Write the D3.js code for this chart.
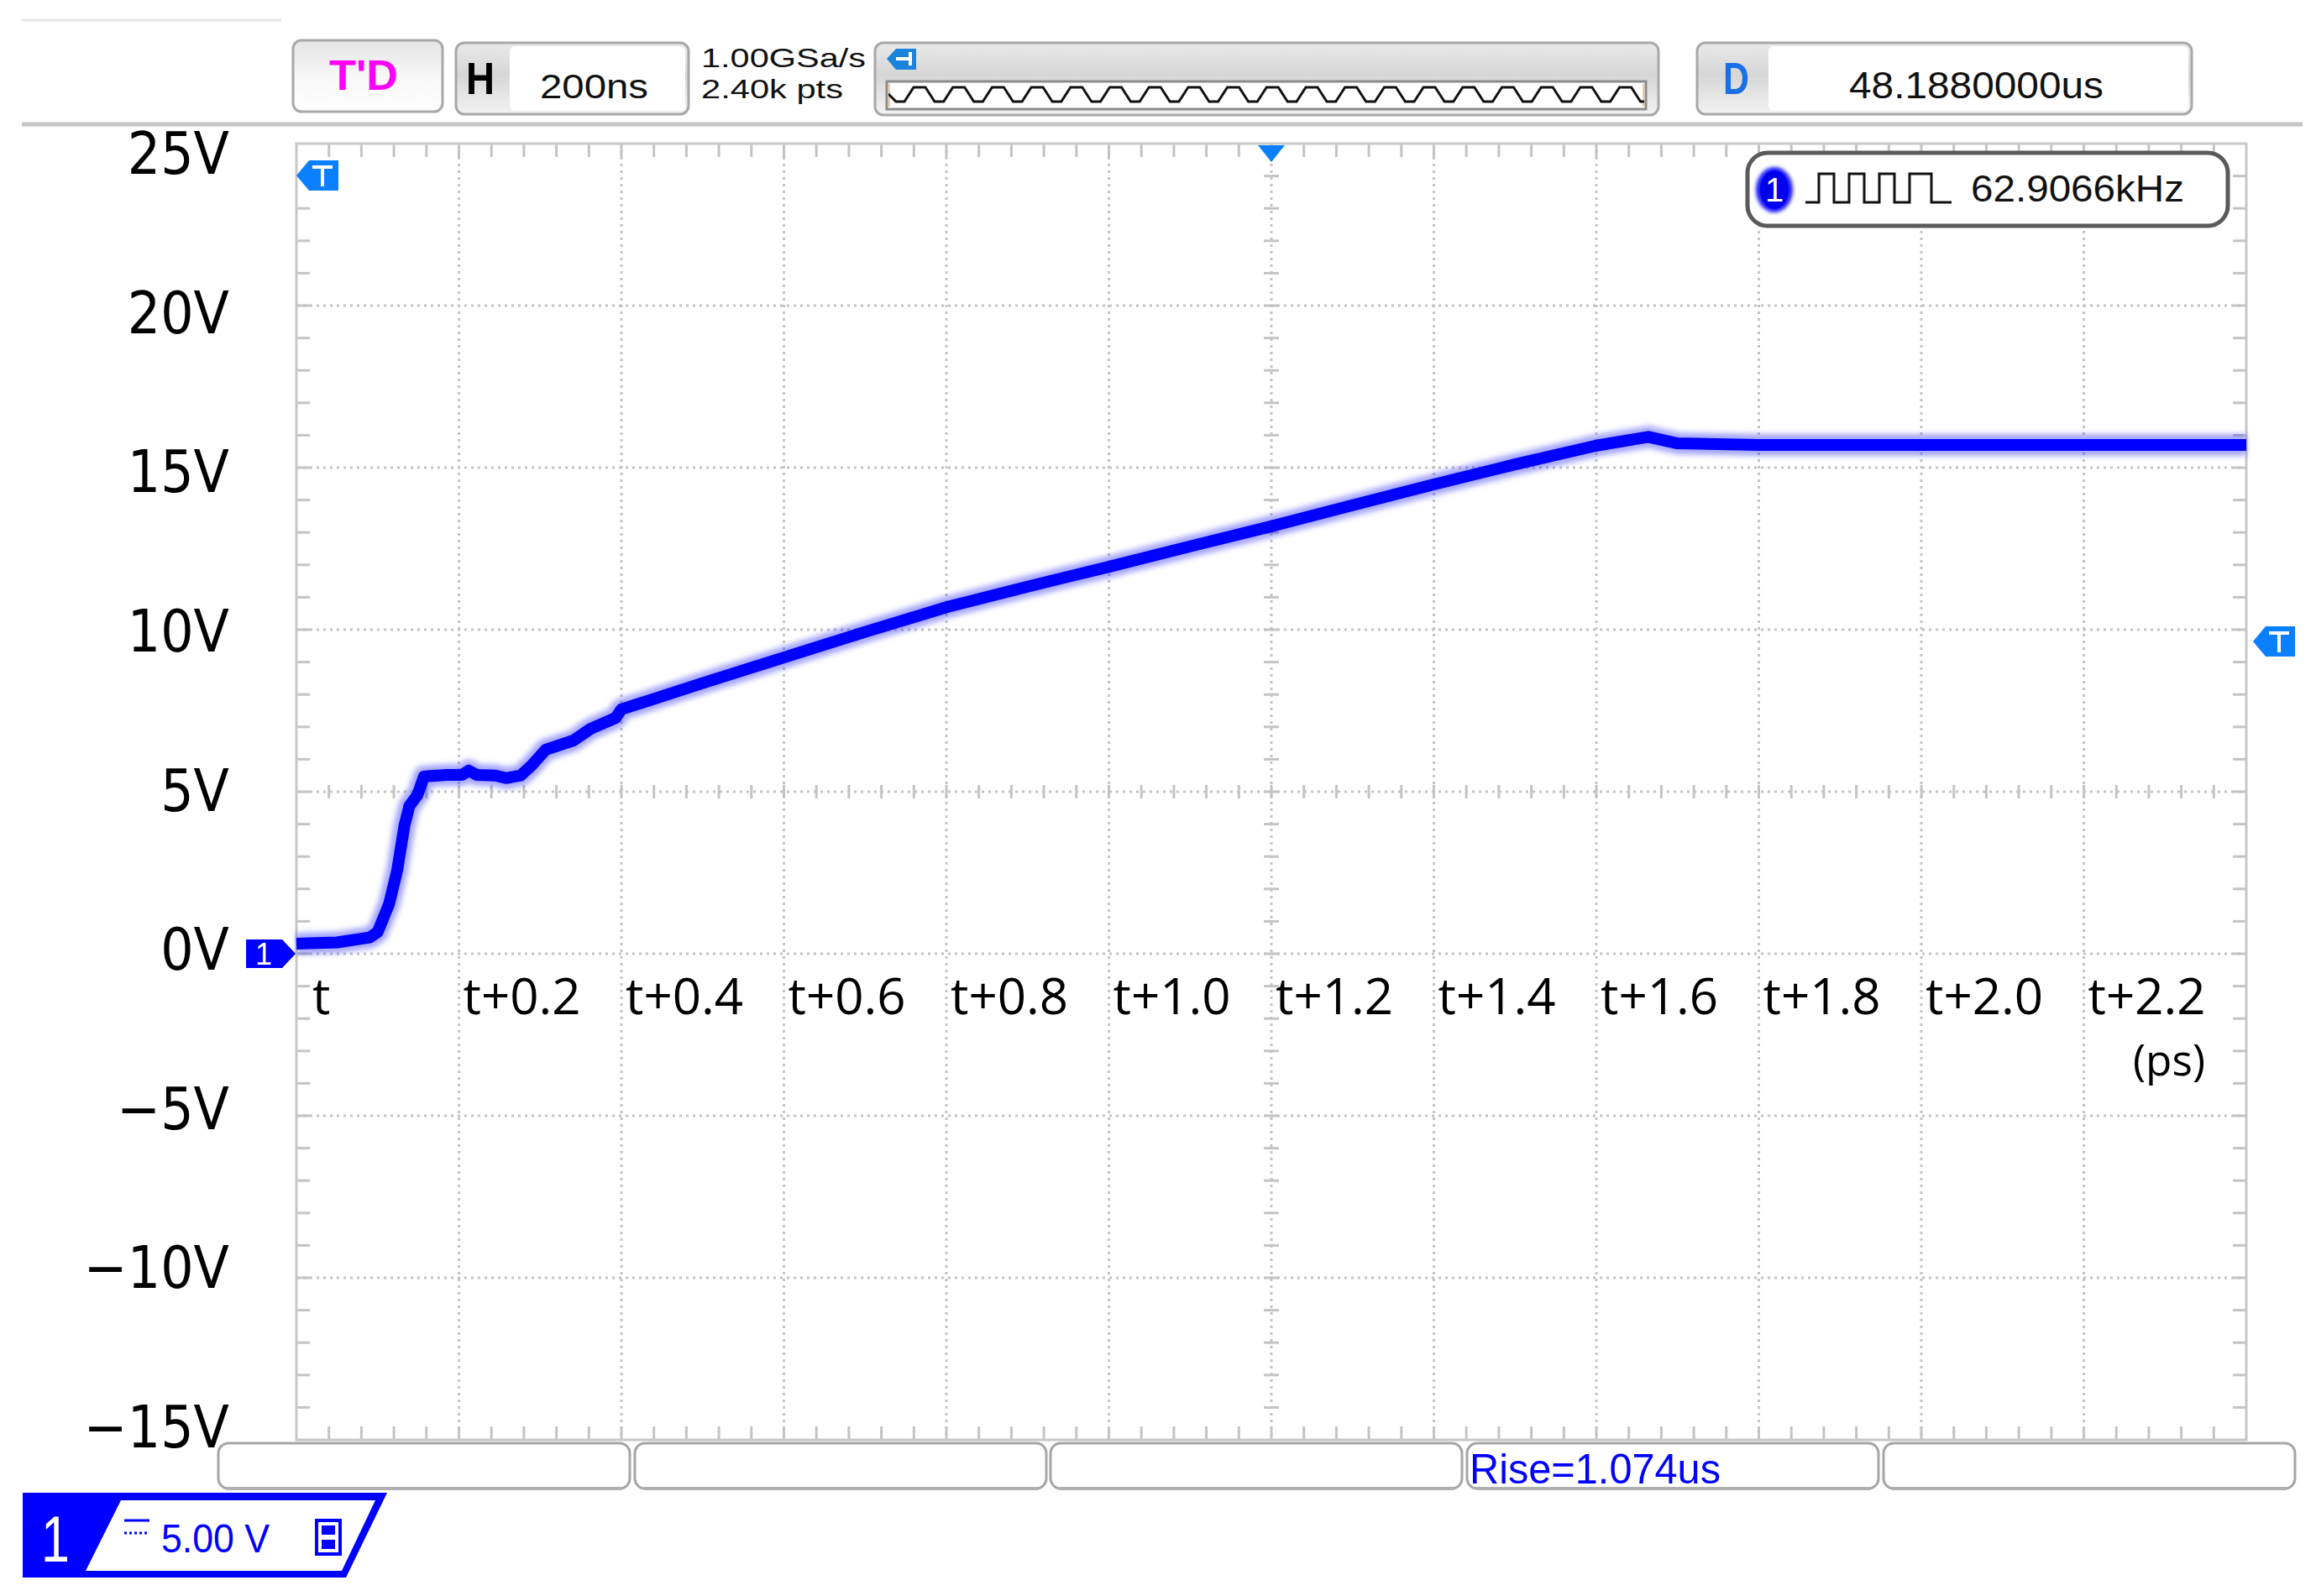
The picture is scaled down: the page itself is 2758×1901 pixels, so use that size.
<!DOCTYPE html>
<html><head><meta charset="utf-8">
<script src="https://cdn.jsdelivr.net/npm/d3@7/dist/d3.min.js"></script>
<style>html,body{margin:0;padding:0;background:#fff;}svg{display:block;}</style>
</head><body>
<svg id="c" width="2758" height="1901"></svg>
<script>
// ---------- data ----------
const timeTicks  = [0, 0.2, 0.4, 0.6, 0.8, 1.0, 1.2, 1.4, 1.6, 1.8, 2.0, 2.2];
const timeLabels = ["t", "t+0.2", "t+0.4", "t+0.6", "t+0.8", "t+1.0", "t+1.2", "t+1.4", "t+1.6", "t+1.8", "t+2.0", "t+2.2"];
const timeUnit   = "(ps)";
const voltTicks  = [25, 20, 15, 10, 5, 0, -5, -10, -15];
const voltLabels = ["25V", "20V", "15V", "10V", "5V", "0V", "\u22125V", "\u221210V", "\u221215V"];
const traceTime  = [0, 0.05, 0.09, 0.100, 0.114, 0.124, 0.133, 0.139, 0.149, 0.157, 0.185, 0.204, 0.212, 0.222, 0.245, 0.258, 0.276, 0.289, 0.307, 0.341, 0.362, 0.393, 0.4, 0.5, 0.6, 0.696, 0.801, 0.9, 1.0, 1.1, 1.2, 1.3, 1.4, 1.5, 1.6, 1.664, 1.70, 1.8, 2.0, 2.2, 2.4];
const traceVolt  = [0.31, 0.35, 0.5, 0.67, 1.53, 2.57, 3.96, 4.56, 4.9, 5.47, 5.52, 5.52, 5.65, 5.52, 5.5, 5.42, 5.5, 5.8, 6.3, 6.58, 6.94, 7.28, 7.54, 8.35, 9.14, 9.9, 10.7, 11.33, 11.94, 12.57, 13.19, 13.84, 14.48, 15.1, 15.68, 15.95, 15.75, 15.7, 15.7, 15.7, 15.7];
const hdrTrigger = "T'D", hdrH = "H", hdrTimebase = "200ns";
const hdrRate = "1.00GSa/s", hdrPts = "2.40k pts";
const hdrDelay = "48.1880000us";
const freqText = "62.9066kHz";
const measText = ["", "", "", "Rise=1.074us", ""];
const chanScale = "5.00 V";

// ---------- setup ----------
const svg = d3.select("#c");
const L = 353, R = 2675, T = 171, B = 1715;
const x = d3.scaleLinear().domain([0, 2.4]).range([L, R]);
const y = d3.scaleLinear().domain([-15, 25]).range([B, T]);
const yLab = d3.scaleLinear().domain([-15, 25]).range([1724, 207]);
const grid = "#c4c4c4";

const defs = svg.append("defs");
function grad(id, stops) {
  const g = defs.append("linearGradient").attr("id", id).attr("x1", 0).attr("y1", 0).attr("x2", 0).attr("y2", 1);
  stops.forEach(s => g.append("stop").attr("offset", s[0]).attr("stop-color", s[1]));
}
grad("gBox", [[0, "#e9e9e9"], [0.45, "#d6d6d6"], [1, "#f3f3f3"]]);
grad("gLight", [[0, "#e4e4e4"], [0.5, "#f7f7f7"], [1, "#ffffff"]]);
defs.append("filter").attr("id", "blur").append("feGaussianBlur").attr("stdDeviation", 3);
defs.append("filter").attr("id", "blur2").append("feGaussianBlur").attr("stdDeviation", 2);

function fit(sel, w) { sel.attr("textLength", w).attr("lengthAdjust", "spacingAndGlyphs"); return sel; }
const SANS = "'Liberation Sans', Arial, sans-serif";

// ---------- header ----------
svg.append("line").attr("x1", 26).attr("x2", 335).attr("y1", 24).attr("y2", 24).attr("stroke", "#e6e6e6").attr("stroke-width", 3);
svg.append("line").attr("x1", 26).attr("x2", 2742).attr("y1", 148).attr("y2", 148).attr("stroke", "#c6c6c6").attr("stroke-width", 5);

// T'D box
svg.append("rect").attr("x", 349).attr("y", 48).attr("width", 178).attr("height", 85).attr("rx", 10)
  .attr("fill", "url(#gLight)").attr("stroke", "#a8a8a8").attr("stroke-width", 3);
fit(svg.append("text").attr("x", 433).attr("y", 107).attr("text-anchor", "middle")
  .attr("font-family", SANS).attr("font-weight", "bold").attr("font-size", 50).attr("fill", "#ff00ff").text(hdrTrigger), 82);

// H box
svg.append("rect").attr("x", 543).attr("y", 51).attr("width", 277).attr("height", 85).attr("rx", 10)
  .attr("fill", "url(#gBox)").attr("stroke", "#a8a8a8").attr("stroke-width", 3);
svg.append("rect").attr("x", 607).attr("y", 55).attr("width", 209).attr("height", 77).attr("rx", 6).attr("fill", "#fff");
fit(svg.append("text").attr("x", 555).attr("y", 112).attr("font-family", SANS).attr("font-weight", "bold")
  .attr("font-size", 54).attr("fill", "#000").text(hdrH), 34);
fit(svg.append("text").attr("x", 643).attr("y", 117).attr("font-family", SANS)
  .attr("font-size", 40).attr("fill", "#111").text(hdrTimebase), 129);

// sample rate text
fit(svg.append("text").attr("x", 835).attr("y", 80).attr("font-family", SANS).attr("font-size", 32).attr("fill", "#111").text(hdrRate), 196);
fit(svg.append("text").attr("x", 835).attr("y", 117).attr("font-family", SANS).attr("font-size", 32).attr("fill", "#111").text(hdrPts), 169);

// overview box
svg.append("rect").attr("x", 1042).attr("y", 51).attr("width", 933).attr("height", 86).attr("rx", 10)
  .attr("fill", "url(#gBox)").attr("stroke", "#a8a8a8").attr("stroke-width", 3);
svg.append("rect").attr("x", 1056).attr("y", 97).attr("width", 904).attr("height", 33)
  .attr("fill", "#fff").attr("stroke", "#8c8c8c").attr("stroke-width", 3);
svg.append("line").attr("x1", 1059).attr("x2", 1059).attr("y1", 100).attr("y2", 127).attr("stroke", "#f4c89a").attr("stroke-width", 2);
svg.append("line").attr("x1", 1957).attr("x2", 1957).attr("y1", 100).attr("y2", 127).attr("stroke", "#f4c89a").attr("stroke-width", 2);
{
  const P = 46.7, pts = [[1058, 112]];
  for (let c = 1072; c < 1960; c += P) {
    pts.push([c - 5, 121], [c + 5, 121], [c + 16, 104], [c + 30, 104], [c + 41, 121]);
  }
  const clip = defs.append("clipPath").attr("id", "ovclip");
  clip.append("rect").attr("x", 1058).attr("y", 98).attr("width", 900).attr("height", 31);
  svg.append("path").attr("d", d3.line()(pts)).attr("fill", "none").attr("stroke", "#111").attr("stroke-width", 3)
    .attr("clip-path", "url(#ovclip)");
}
svg.append("path").attr("d", "M1056,70 L1067,58 L1091,58 L1091,83 L1067,83 Z").attr("fill", "#1a84dc");
svg.append("path").attr("d", "M1067,70 L1084,70 M1084,62 L1084,78").attr("stroke", "#fff").attr("stroke-width", 4);

// D box
svg.append("rect").attr("x", 2021).attr("y", 51).attr("width", 589).attr("height", 85).attr("rx", 10)
  .attr("fill", "url(#gBox)").attr("stroke", "#a8a8a8").attr("stroke-width", 3);
svg.append("rect").attr("x", 2106).attr("y", 55).attr("width", 500).attr("height", 77).attr("rx", 6).attr("fill", "#fff");
fit(svg.append("text").attr("x", 2052).attr("y", 112).attr("font-family", SANS).attr("font-weight", "bold")
  .attr("font-size", 54).attr("fill", "#1a6fe6").text("D"), 31);
fit(svg.append("text").attr("x", 2202).attr("y", 117).attr("font-family", SANS)
  .attr("font-size", 44).attr("fill", "#111").text(hdrDelay), 303);

// ---------- plot frame & grid ----------
const gGrid = svg.append("g");
const majorX = d3.range(1, 12).map(i => i * 0.2);
const majorY = d3.range(-10, 25, 5);
gGrid.selectAll(".vx").data(majorX).join("line")
  .attr("x1", d => x(d)).attr("x2", d => x(d)).attr("y1", T).attr("y2", B)
  .attr("stroke", grid).attr("stroke-width", 3).attr("stroke-dasharray", "3,5");
gGrid.selectAll(".hy").data(majorY).join("line")
  .attr("x1", L).attr("x2", R).attr("y1", d => y(d)).attr("y2", d => y(d))
  .attr("stroke", grid).attr("stroke-width", 3).attr("stroke-dasharray", "3,5");

// minor ticks on frame and center axes
const minorX = d3.range(1, 60).map(i => i * 0.04);
const minorY = d3.range(-14, 25, 1);
const tk = 16;
gGrid.selectAll(".tt").data(minorX).join("line")
  .attr("x1", d => x(d)).attr("x2", d => x(d)).attr("y1", T).attr("y2", T + tk)
  .attr("stroke", grid).attr("stroke-width", 3);
gGrid.selectAll(".tb").data(minorX).join("line")
  .attr("x1", d => x(d)).attr("x2", d => x(d)).attr("y1", B).attr("y2", B - tk)
  .attr("stroke", grid).attr("stroke-width", 3);
gGrid.selectAll(".tc").data(minorX).join("line")
  .attr("x1", d => x(d)).attr("x2", d => x(d)).attr("y1", y(5) - 8).attr("y2", y(5) + 8)
  .attr("stroke", grid).attr("stroke-width", 3);
gGrid.selectAll(".tl").data(minorY).join("line")
  .attr("x1", L).attr("x2", L + tk).attr("y1", d => y(d)).attr("y2", d => y(d))
  .attr("stroke", grid).attr("stroke-width", 3);
gGrid.selectAll(".tr").data(minorY).join("line")
  .attr("x1", R).attr("x2", R - tk).attr("y1", d => y(d)).attr("y2", d => y(d))
  .attr("stroke", grid).attr("stroke-width", 3);
gGrid.selectAll(".tm").data(minorY).join("line")
  .attr("x1", x(1.2) - 9).attr("x2", x(1.2) + 9).attr("y1", d => y(d)).attr("y2", d => y(d))
  .attr("stroke", grid).attr("stroke-width", 3);
gGrid.append("rect").attr("x", L).attr("y", T).attr("width", R - L).attr("height", B - T)
  .attr("fill", "none").attr("stroke", "#c8c8c8").attr("stroke-width", 3);

// ---------- axis labels ----------
svg.append("g").selectAll("text").data(voltTicks).join("text")
  .attr("x", 273).attr("y", d => yLab(d)).attr("text-anchor", "end")
  .attr("font-family", "'DejaVu Sans', Verdana, sans-serif").attr("font-size", 70).attr("fill", "#000")
  .text((d, i) => voltLabels[i])
  .each(function () { const w = this.getComputedTextLength(); fit(d3.select(this), w * 0.885); });

svg.append("g").selectAll("text").data(timeTicks).join("text")
  .attr("x", (d, i) => x(d) + (i === 0 ? 19 : 5)).attr("y", 1208)
  .attr("font-family", "'Open Sans', sans-serif").attr("font-size", 60).attr("fill", "#000")
  .text((d, i) => timeLabels[i]);
fit(svg.append("text").attr("x", 2540).attr("y", 1281)
  .attr("font-family", "'Open Sans', sans-serif").attr("font-size", 52).attr("fill", "#000").text(timeUnit), 86);

// ---------- trace ----------
const trace = traceTime.map((t, i) => ({ t, v: traceVolt[i] }));
const line = d3.line().x(d => x(d.t)).y(d => y(d.v));
svg.append("path").datum(trace).attr("d", line).attr("fill", "none")
  .attr("stroke", "#0000ff").attr("stroke-opacity", 0.35).attr("stroke-width", 26)
  .attr("stroke-linejoin", "round").attr("filter", "url(#blur)");
svg.append("path").datum(trace).attr("d", line).attr("fill", "none")
  .attr("stroke", "#0000ff").attr("stroke-width", 14).attr("stroke-linejoin", "round");

// ---------- markers ----------
const tBlue = "#0a80ff";
function tMarker(tipX, cy) {
  svg.append("path").attr("d", `M${tipX},${cy} L${tipX + 15},${cy - 18} L${tipX + 50},${cy - 18} L${tipX + 50},${cy + 18} L${tipX + 15},${cy + 18} Z`).attr("fill", tBlue);
  svg.append("path").attr("d", `M${tipX + 19},${cy - 10} L${tipX + 43},${cy - 10} M${tipX + 31},${cy - 10} L${tipX + 31},${cy + 13}`)
    .attr("stroke", "#fff").attr("stroke-width", 4);
}
tMarker(353, 209);
tMarker(2683, 764);
svg.append("path").attr("d", `M${x(1.2) - 16},173 L${x(1.2) + 16},173 L${x(1.2)},193 Z`).attr("fill", tBlue);
// channel 1 ground marker
svg.append("path").attr("d", `M293,${y(0) - 17} L336,${y(0) - 17} L352,${y(0)} L336,${y(0) + 17} L293,${y(0) + 17} Z`).attr("fill", "#0000ff");
svg.append("text").attr("x", 314).attr("y", y(0) + 13).attr("text-anchor", "middle").attr("font-family", SANS)
  .attr("font-size", 36).attr("fill", "#fff").text("1");

// ---------- frequency box ----------
svg.append("rect").attr("x", 2081).attr("y", 182).attr("width", 572).attr("height", 87).attr("rx", 24)
  .attr("fill", "#fff").attr("stroke", "#5a5a5a").attr("stroke-width", 5);
svg.append("ellipse").attr("cx", 2113).attr("cy", 226).attr("rx", 22).attr("ry", 27).attr("fill", "#1a1aff").attr("filter", "url(#blur2)");
svg.append("ellipse").attr("cx", 2113).attr("cy", 226).attr("rx", 17).attr("ry", 23).attr("fill", "#0000ee");
svg.append("text").attr("x", 2113).attr("y", 240).attr("text-anchor", "middle").attr("font-family", SANS)
  .attr("font-size", 40).attr("fill", "#fff").text("1");
{
  const lo = 241, hi = 207;
  const sq = [[2150, lo], [2166, lo], [2166, hi], [2184, hi], [2184, lo], [2202, lo], [2202, hi], [2220, hi], [2220, lo],
    [2238, lo], [2238, hi], [2256, hi], [2256, lo], [2274, lo], [2274, hi], [2300, hi], [2300, lo], [2324, lo]];
  svg.append("path").attr("d", d3.line()(sq)).attr("fill", "none").attr("stroke", "#111").attr("stroke-width", 3);
}
fit(svg.append("text").attr("x", 2347).attr("y", 240).attr("font-family", SANS)
  .attr("font-size", 44).attr("fill", "#111").text(freqText), 254);

// ---------- measurement boxes ----------
const mBoxX = [260, 756, 1251, 1747, 2243];
svg.append("g").selectAll("rect").data(mBoxX).join("rect")
  .attr("x", d => d).attr("y", 1719).attr("width", 490).attr("height", 54).attr("rx", 12)
  .attr("fill", "#fff").attr("stroke", "#a6a6a6").attr("stroke-width", 3);
svg.append("g").selectAll("line").data(mBoxX).join("line")
  .attr("x1", d => d + 10).attr("x2", d => d + 480).attr("y1", 1773).attr("y2", 1773)
  .attr("stroke", "#b0b0b0").attr("stroke-width", 4);
svg.append("g").selectAll("text").data(mBoxX).join("text")
  .attr("x", d => d + 3).attr("y", 1767).attr("font-family", SANS).attr("font-size", 50).attr("fill", "#0000ff")
  .text((d, i) => measText[i])
  .each(function (d, i) { if (measText[i]) fit(d3.select(this), 299); });

// ---------- channel box ----------
svg.append("path").attr("d", "M27,1778 L461,1778 L412,1879 L27,1879 Z").attr("fill", "#0000ff");
svg.append("path").attr("d", "M144,1787 L447,1787 L407,1871 L102,1871 Z").attr("fill", "#fff");
fit(svg.append("text").attr("x", 49).attr("y", 1860).attr("font-family", SANS).attr("font-size", 78)
  .attr("fill", "#fff").text("1"), 34);
svg.append("line").attr("x1", 148).attr("x2", 178).attr("y1", 1811).attr("y2", 1811).attr("stroke", "#0000ff").attr("stroke-width", 3);
svg.append("line").attr("x1", 148).attr("x2", 178).attr("y1", 1826).attr("y2", 1826).attr("stroke", "#0000ff").attr("stroke-width", 3).attr("stroke-dasharray", "3,3");
fit(svg.append("text").attr("x", 192).attr("y", 1849).attr("font-family", SANS).attr("font-size", 48)
  .attr("fill", "#0000ff").text(chanScale), 129);
svg.append("rect").attr("x", 377).attr("y", 1811).attr("width", 28).attr("height", 40).attr("fill", "none").attr("stroke", "#0000ff").attr("stroke-width", 4);
svg.append("rect").attr("x", 383).attr("y", 1817).attr("width", 16).attr("height", 11).attr("fill", "#0000ff");
svg.append("rect").attr("x", 383).attr("y", 1834).attr("width", 16).attr("height", 11).attr("fill", "#0000ff");
</script>
</body></html>
